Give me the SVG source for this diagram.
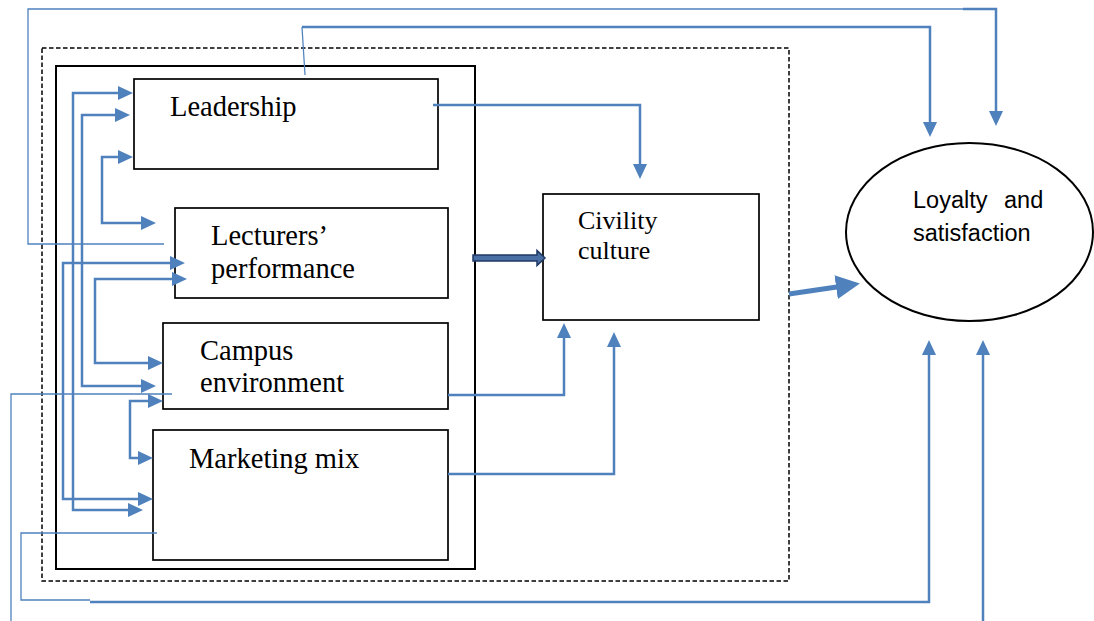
<svg xmlns="http://www.w3.org/2000/svg" width="1094" height="621" viewBox="0 0 1094 621">
<style>
.box{fill:#fff;stroke:#000;stroke-width:1.7}
.lbl{font-family:"Liberation Serif","Times New Roman",serif;font-size:28.5px;fill:#000}
.lbl2{font-family:"Liberation Serif","Times New Roman",serif;font-size:26px;fill:#000}
.sans{font-family:"Liberation Sans",Arial,sans-serif;font-size:23.5px;fill:#000}
.conn{fill:none;stroke:#4f81bd;stroke-width:2.5}
.thin{fill:none;stroke:#4f81bd;stroke-width:1.3}
.ar{marker-end:url(#ah)}
.ar2{marker-start:url(#ah);marker-end:url(#ah)}
</style>
<defs>
<marker id="ah" viewBox="0 0 15 14" refX="7" refY="7" markerWidth="15" markerHeight="14" markerUnits="userSpaceOnUse" orient="auto-start-reverse">
<path d="M0,0 L15,7 L0,14 z" fill="#4f81bd"/>
</marker>
<marker id="big" viewBox="0 0 24 24" refX="11" refY="12" markerWidth="24" markerHeight="24" markerUnits="userSpaceOnUse" orient="auto">
<path d="M0,0 L24,12 L0,24 z" fill="#4f81bd"/>
</marker>
</defs>
<rect width="1094" height="621" fill="#fff"/>

<g id="frames">
<rect x="42" y="48" width="747" height="533" fill="none" stroke="#000" stroke-width="1.5" stroke-dasharray="4.5,2.5"/>
<rect x="56" y="66" width="419" height="503" fill="none" stroke="#000" stroke-width="2"/>
</g>

<g id="leadership"><rect class="box" x="134" y="79" width="304" height="90"/><text class="lbl" x="170" y="116">Leadership</text></g>
<g id="lecturers"><rect class="box" x="175" y="208" width="273" height="90"/><text class="lbl" x="211" y="245">Lecturers’</text><text class="lbl" x="211" y="278">performance</text></g>
<g id="campus"><rect class="box" x="163" y="323" width="285" height="86"/><text class="lbl" x="200" y="360">Campus</text><text class="lbl" x="200" y="392">environment</text></g>
<g id="marketing"><rect class="box" x="153" y="430" width="295" height="130"/><text class="lbl" x="189" y="468">Marketing mix</text></g>
<g id="civility"><rect class="box" x="543" y="194" width="216" height="126"/><text class="lbl2" x="578" y="229">Civility</text><text class="lbl2" x="578" y="259">culture</text></g>
<g id="loyalty"><ellipse cx="969.5" cy="232" rx="123.5" ry="89" fill="#fff" stroke="#000" stroke-width="2"/><text class="sans" x="913" y="208">Loyalty <tspan x="1004">and</tspan></text><text class="sans" x="913" y="241">satisfaction</text></g>

<g id="connectors">
<path class="conn ar2" d="M125,93 H73 V510 H135"/>
<path class="conn ar2" d="M122,115 H82 V386 H148"/>
<path class="conn ar2" d="M125,157 H102 V223 H148"/>
<path class="conn ar2" d="M177,263 H63 V499 H145"/>
<path class="conn ar2" d="M179,279 H95 V363 H155"/>
<path class="conn ar2" d="M155,401 H130 V458 H145"/>

<path class="conn ar" d="M433,105 H640 V171"/>
<path class="conn ar" d="M448,395 H564 V331"/>
<path class="conn ar" d="M448,474 H614 V340"/>

<path d="M473,255 H537 V250.5 L545,258 L537,265.5 V261 H473 Z" fill="#4a6fa5" stroke="#1f3864" stroke-width="1.5"/>

<path class="thin" d="M164,244 H28 V9 H963"/>
<path class="conn ar" d="M963,9 H996 V118"/>
<path class="thin" d="M305,75 L302,27"/>
<path class="conn ar" d="M302,27 H930 V129"/>
<path class="thin" d="M157,533 H21 V600 H90"/>
<path class="conn ar" d="M90,602 H929 V348"/>
<path class="thin" d="M172,394 H11 V621"/>
<path class="conn ar" d="M983,621 V348"/>
<path d="M789,294 L847,285.5" fill="none" stroke="#4f81bd" stroke-width="5" marker-end="url(#big)"/>
</g>
</svg>
